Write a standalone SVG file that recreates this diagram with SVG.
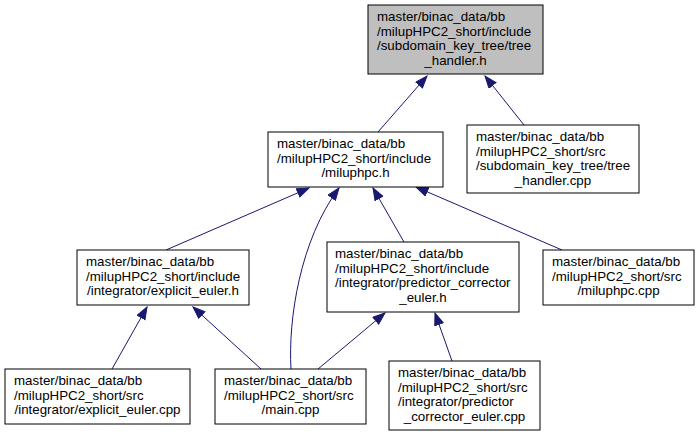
<svg xmlns="http://www.w3.org/2000/svg" width="699" height="437" viewBox="0 0 699 437">
<style>
.n rect{fill:#fff;stroke:#000;stroke-width:1}
.n.hl rect{fill:#bfbfbf}
.n text{font-family:"Liberation Sans",Arial,sans-serif;font-size:13.33px;fill:#000}
.n text.c{text-anchor:middle}
.e path{fill:none;stroke:#191970;stroke-width:1}
</style>
<defs>
<marker id="ah" markerUnits="userSpaceOnUse" markerWidth="14" markerHeight="12" refX="12.5" refY="5" orient="auto">
<path d="M0.5,0.5 L12.5,5 L0.5,9.5 z" fill="#191970" stroke="#191970"/>
</marker>
</defs>
<g id="edges" class="e">
<path d="M378,132 L427,76" marker-end="url(#ah)"/>
<path d="M524,125 L485,76" marker-end="url(#ah)"/>
<path d="M166,250 L309,188" marker-end="url(#ah)"/>
<path d="M291,369 C288,320 300,240 339,188" marker-end="url(#ah)"/>
<path d="M404,242 L373,188" marker-end="url(#ah)"/>
<path d="M562,250 L416,187" marker-end="url(#ah)"/>
<path d="M112,369 L147,307" marker-end="url(#ah)"/>
<path d="M261,369 L193,307" marker-end="url(#ah)"/>
<path d="M318,369 L385,313" marker-end="url(#ah)"/>
<path d="M452,361 L435,313" marker-end="url(#ah)"/>
</g>
<g id="node_tree_handler_h" class="n hl">
<rect x="368" y="5" width="175" height="69"/>
<text x="377" y="21">master/binac_data/bb</text>
<text x="377" y="35.7">/milupHPC2_short/include</text>
<text x="377" y="50.3">/subdomain_key_tree/tree</text>
<text class="c" x="455.5" y="65">_handler.h</text>
</g>
<g id="node_miluphpc_h" class="n">
<rect x="268" y="132" width="175" height="55"/>
<text x="277" y="148">master/binac_data/bb</text>
<text x="277" y="162.7">/milupHPC2_short/include</text>
<text class="c" x="355.5" y="177.3">/miluphpc.h</text>
</g>
<g id="node_tree_handler_cpp" class="n">
<rect x="467" y="125" width="172" height="68"/>
<text x="476" y="141">master/binac_data/bb</text>
<text x="476" y="155.7">/milupHPC2_short/src</text>
<text x="476" y="170.3">/subdomain_key_tree/tree</text>
<text class="c" x="553" y="185">_handler.cpp</text>
</g>
<g id="node_explicit_euler_h" class="n">
<rect x="77" y="250" width="172" height="55"/>
<text x="86" y="266">master/binac_data/bb</text>
<text x="86" y="280.7">/milupHPC2_short/include</text>
<text class="c" x="163" y="295.3">/integrator/explicit_euler.h</text>
</g>
<g id="node_predictor_corrector_euler_h" class="n">
<rect x="327" y="242" width="192" height="70"/>
<text x="335" y="258">master/binac_data/bb</text>
<text x="335" y="272.7">/milupHPC2_short/include</text>
<text x="335" y="287.3">/integrator/predictor_corrector</text>
<text class="c" x="423" y="302">_euler.h</text>
</g>
<g id="node_miluphpc_cpp" class="n">
<rect x="543" y="250" width="151" height="55"/>
<text x="552" y="266">master/binac_data/bb</text>
<text x="552" y="280.7">/milupHPC2_short/src</text>
<text class="c" x="618.5" y="295.3">/miluphpc.cpp</text>
</g>
<g id="node_explicit_euler_cpp" class="n">
<rect x="5" y="369" width="185" height="55"/>
<text x="14" y="385">master/binac_data/bb</text>
<text x="14" y="399.7">/milupHPC2_short/src</text>
<text class="c" x="97.5" y="414.3">/integrator/explicit_euler.cpp</text>
</g>
<g id="node_main_cpp" class="n">
<rect x="215" y="369" width="151" height="55"/>
<text x="224" y="385">master/binac_data/bb</text>
<text x="224" y="399.7">/milupHPC2_short/src</text>
<text class="c" x="290.5" y="414.3">/main.cpp</text>
</g>
<g id="node_predictor_corrector_euler_cpp" class="n">
<rect x="389" y="361" width="151" height="69"/>
<text x="398" y="377">master/binac_data/bb</text>
<text x="398" y="391.7">/milupHPC2_short/src</text>
<text x="398" y="406.3">/integrator/predictor</text>
<text class="c" x="464.5" y="421">_corrector_euler.cpp</text>
</g>
</svg>
